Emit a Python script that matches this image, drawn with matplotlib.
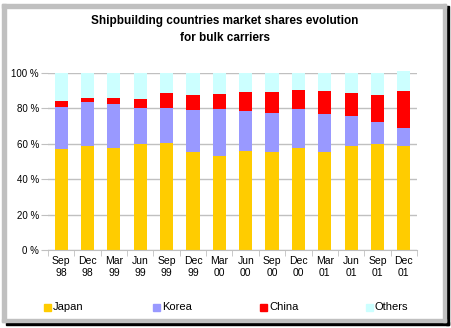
import matplotlib
matplotlib.use("Agg")
from matplotlib import pyplot as plt
from matplotlib.patches import Rectangle
import numpy as np

plt.rcParams['font.family'] = ['Liberation Sans', 'DejaVu Sans']

# quarters
months = ['Sep', 'Dec', 'Mar', 'Jun', 'Sep', 'Dec', 'Mar', 'Jun', 'Sep', 'Dec', 'Mar', 'Jun', 'Sep', 'Dec']
years = ['98', '98', '99', '99', '99', '99', '00', '00', '00', '00', '01', '01', '01', '01']

# market shares in %
japan = [57.2, 58.9, 57.7, 60.0, 60.6, 55.5, 53.2, 56.0, 55.5, 57.7, 55.5, 58.9, 60.0, 58.9]
korea = [23.7, 24.9, 24.9, 20.4, 19.8, 23.7, 26.6, 22.7, 22.0, 22.1, 21.5, 16.9, 12.5, 10.2]
china = [3.4, 2.2, 3.4, 5.1, 8.5, 8.5, 8.5, 10.7, 11.9, 10.8, 13.0, 13.1, 15.2, 20.9]
others = [15.7, 14.0, 14.0, 14.5, 11.1, 12.3, 11.7, 10.6, 10.6, 9.4, 10.0, 11.1, 12.3, 11.3]

series_names = ['Japan', 'Korea', 'China', 'Others']
series_colors = ['#FFCC00', '#9999FF', '#FF0000', '#CCFFFF']

fig = plt.figure(figsize=(4.52, 3.28), dpi=100)
fig.patch.set_facecolor('white')

# frame with shadow (pixel coords)
fig.patches.append(Rectangle((446, 3), 3, 319, transform=None, color='black'))
fig.patches.append(Rectangle((6, 3), 443, 3, transform=None, color='black'))
gray = '#C0C0C0'
fig.patches.append(Rectangle((2, 6), 4, 318, transform=None, color=gray))
fig.patches.append(Rectangle((2, 320), 444, 4, transform=None, color=gray))
fig.patches.append(Rectangle((443, 6), 3, 318, transform=None, color=gray))
fig.patches.append(Rectangle((2, 6), 444, 3, transform=None, color=gray))

ax = fig.add_axes([48 / 452, 78 / 328, 369 / 452, 177 / 328])
x = np.arange(len(months))
bottom = np.zeros(len(months))
for vals, col in zip([japan, korea, china, others], series_colors):
    ax.bar(x, vals, width=0.5, bottom=bottom, color=col, zorder=3, clip_on=False)
    bottom += np.array(vals)

ax.set_xlim(-0.5, len(months) - 0.5)
ax.set_ylim(0, 100)
ax.set_yticks(np.arange(0, 101, 20))
ax.set_yticklabels([f'{v} %' for v in range(0, 101, 20)])
ax.yaxis.grid(True, color='#C0C0C0', linewidth=1.0, zorder=0)
ax.tick_params(axis='y', length=5, color='#C0C0C0', pad=1.5, labelsize=7)

ax.set_xticks(x)
ax.set_xticklabels([f'{m}\n{y}' for m, y in zip(months, years)], fontsize=7.5, linespacing=1.25)
ax.set_xticks(np.arange(-0.5, len(months)), minor=True)
ax.tick_params(axis='x', which='major', length=0, pad=4)
ax.tick_params(axis='x', which='minor', length=4, color='#C0C0C0')

for s in ['top', 'right', 'left']:
    ax.spines[s].set_visible(False)
ax.spines['bottom'].set_color('#C0C0C0')
ax.spines['bottom'].set_zorder(4)

fig.text(225 / 452, 1 - 29.5 / 328, 'Shipbuilding countries market shares evolution\nfor bulk carriers',
         ha='center', va='center', fontsize=8.5, fontweight='bold', linespacing=1.45)

# legend
leg_x = [44, 153, 260, 366]
for lx, name, col in zip(leg_x, series_names, series_colors):
    fig.patches.append(Rectangle((lx, 328 - 311), 7, 7, transform=None, color=col))
    fig.text((lx + 9) / 452, (328 - 307.5) / 328, name, ha='left', va='center', fontsize=8)

fig.savefig('out.png', dpi=100)
